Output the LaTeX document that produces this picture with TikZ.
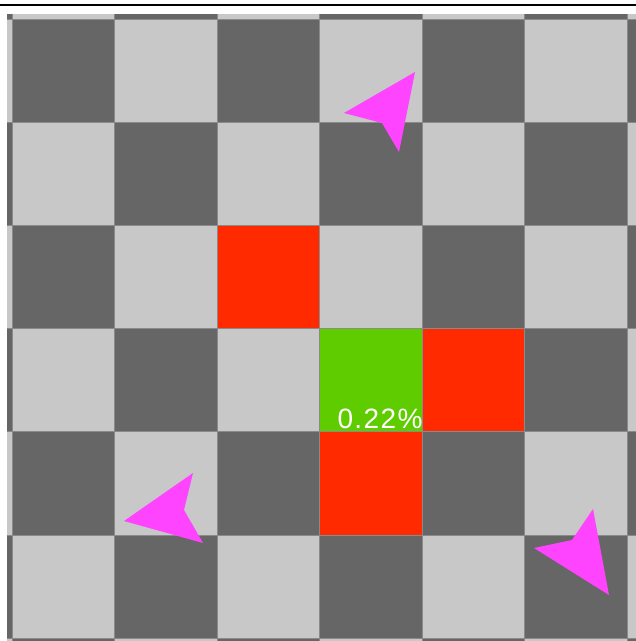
\documentclass[tikz,border=0pt]{standalone}
\usepackage{fontspec}
\setmainfont{Liberation Sans}
\definecolor{scuro}{HTML}{666666}
\definecolor{chiaro}{HTML}{C8C8C8}
\definecolor{bordo}{HTML}{8A8A8A}
\definecolor{rosso}{HTML}{FF2A00}
\definecolor{verde}{HTML}{5FCC00}
\definecolor{magenta}{HTML}{FF44FF}
\tikzset{
    cella/.style={draw=bordo,line width=0.8pt},
    freccia/.style={fill=magenta,draw=none},
}
\begin{document}
\begin{tikzpicture}[x=1pt,y=-1pt]
        \useasboundingbox[fill=white](0,0)rectangle(636,641);
        \draw[line width=2pt](0,5)--(636,5); %linea in alto
        %scacchiera
        \begin{scope}
            \clip(7,14)rectangle(636,641);
            \foreach \i in {-1,...,6}{
                \foreach \j in {-1,...,6}{
                    \pgfmathtruncatemacro{\pari}{mod(\i+\j+8,2)}
                    \ifnum\pari=0
                        \draw[cella,fill=scuro](12+102.5*\i,19+103.2*\j)rectangle++(102.5,103.2);
                    \else
                        \draw[cella,fill=chiaro](12+102.5*\i,19+103.2*\j)rectangle++(102.5,103.2);
                    \fi
                }
            }
            %caselle colorate
            \draw[cella,fill=rosso](12+102.5*2,19+103.2*2)rectangle++(102.5,103.2);
            \draw[cella,fill=rosso](12+102.5*4,19+103.2*3)rectangle++(102.5,103.2);
            \draw[cella,fill=rosso](12+102.5*3,19+103.2*4)rectangle++(102.5,103.2);
            \draw[cella,fill=verde](12+102.5*3,19+103.2*3)rectangle++(102.5,103.2);
        \end{scope}
        \node[anchor=base,text=white,font=\fontsize{28}{28}\selectfont\addfontfeature{LetterSpace=5},inner sep=0pt](perc)at(380,428){0.22\%};
        %frecce
        \fill[freccia](415,72)--(399,152)--(382,123)--(344,113)--cycle;
        \fill[freccia](193,473)--(184,510)--(203,543)--(124,521)--cycle;
        \fill[freccia](593,509)--(609,595)--(534,548)--(572,540)--cycle;
    \end{tikzpicture}
\end{document}
